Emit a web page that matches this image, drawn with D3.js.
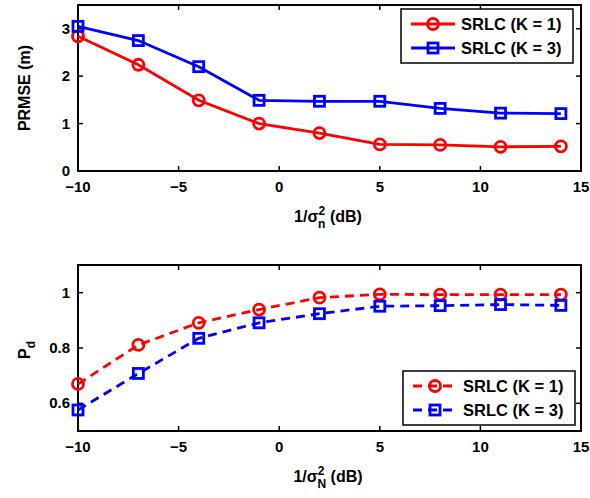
<!DOCTYPE html>
<html>
<head>
<meta charset="utf-8">
<script src="https://cdn.jsdelivr.net/npm/d3@7"></script>
<style>
  body { margin: 0; background: #fff; }
  text { font-family: "Liberation Sans", Arial, sans-serif; font-weight: bold; }
</style>
</head>
<body>
<div id="chart"></div>
<script>
// data
const snr = [-10, -7, -4, -1, 2, 5, 8, 11, 14];
const prmseK1 = [2.84, 2.24, 1.49, 1.0, 0.80, 0.56, 0.55, 0.51, 0.52];
const prmseK3 = [3.05, 2.75, 2.20, 1.49, 1.47, 1.47, 1.32, 1.22, 1.21];
const pdK1 = [0.67, 0.811, 0.891, 0.939, 0.982, 0.994, 0.993, 0.993, 0.993];
const pdK3 = [0.576, 0.708, 0.835, 0.891, 0.924, 0.951, 0.953, 0.957, 0.954];
const xTicks = [-10, -5, 0, 5, 10, 15];
const topYTicks = [0, 1, 2, 3];
const botYTicks = [0.6, 0.8, 1];
const seriesNames = ["SRLC (K = 1)", "SRLC (K = 3)"];

const W = 590, H = 498;
const svg = d3.select("#chart").append("svg")
    .attr("width", W).attr("height", H);

function fmtTick(d) {
    return (d < 0 ? "\u2212" + Math.abs(d) : String(d));
}

function drawPanel(opt) {
    const x = d3.scaleLinear().domain([-10, 15]).range([78, 581]);
    const y = d3.scaleLinear().domain(opt.yDomain).range([opt.bottom, opt.top]);
    const g = svg.append("g");

    // inward ticks on all four sides
    const tk = 5;
    xTicks.forEach(t => {
        g.append("line").attr("x1", x(t)).attr("x2", x(t))
            .attr("y1", opt.bottom).attr("y2", opt.bottom - tk)
            .attr("stroke", "#000").attr("stroke-width", 1.5);
        g.append("line").attr("x1", x(t)).attr("x2", x(t))
            .attr("y1", opt.top).attr("y2", opt.top + tk)
            .attr("stroke", "#000").attr("stroke-width", 1.5);
        g.append("text").attr("x", x(t)).attr("y", opt.bottom + 21)
            .attr("text-anchor", "middle").attr("font-size", 15)
            .text(fmtTick(t));
    });
    opt.yTicks.forEach(t => {
        g.append("line").attr("x1", 78).attr("x2", 78 + tk)
            .attr("y1", y(t)).attr("y2", y(t))
            .attr("stroke", "#000").attr("stroke-width", 1.5);
        g.append("line").attr("x1", 581).attr("x2", 581 - tk)
            .attr("y1", y(t)).attr("y2", y(t))
            .attr("stroke", "#000").attr("stroke-width", 1.5);
        g.append("text").attr("x", 70).attr("y", y(t) + 5)
            .attr("text-anchor", "end").attr("font-size", 15)
            .text(String(t));
    });

    g.append("rect").attr("x", 78).attr("y", opt.top)
        .attr("width", 581 - 78).attr("height", opt.bottom - opt.top)
        .attr("fill", "none").attr("stroke", "#000").attr("stroke-width", 2);

    const line = d3.line().x(d => x(d[0])).y(d => y(d[1]));
    const series = [
        { vals: opt.s1, color: "#ff0000", marker: "circle" },
        { vals: opt.s2, color: "#0000ff", marker: "square" }
    ];
    series.forEach(s => {
        const pts = snr.map((v, i) => [v, s.vals[i]]);
        g.append("path").datum(pts).attr("d", line)
            .attr("fill", "none").attr("stroke", s.color).attr("stroke-width", 2.8)
            .attr("stroke-dasharray", opt.dash ? "9,6" : null);
        drawMarkers(g, pts.map(p => [x(p[0]), y(p[1])]), s);
    });

    // legend
    const lg = svg.append("g");
    lg.append("rect").attr("x", opt.leg[0]).attr("y", opt.leg[1])
        .attr("width", 172).attr("height", 54)
        .attr("fill", "#fff").attr("stroke", "#000").attr("stroke-width", 1.5);
    series.forEach((s, i) => {
        const ly = opt.leg[1] + 15 + i * 24;
        lg.append("line").attr("x1", opt.leg[0] + 10).attr("x2", opt.leg[0] + 54)
            .attr("y1", ly).attr("y2", ly)
            .attr("stroke", s.color).attr("stroke-width", 2.8)
            .attr("stroke-dasharray", opt.dash ? "9,6" : null);
        drawMarkers(lg, [[opt.leg[0] + 32, ly]], s);
        lg.append("text").attr("x", opt.leg[0] + 60).attr("y", ly + 6)
            .attr("font-size", 16.5).text(seriesNames[i]);
    });
    return g;
}

function drawMarkers(g, pts, s) {
    pts.forEach(p => {
        if (s.marker === "circle") {
            g.append("circle").attr("cx", p[0]).attr("cy", p[1]).attr("r", 5.5)
                .attr("fill", "none").attr("stroke", s.color).attr("stroke-width", 2.8);
        } else {
            g.append("rect").attr("x", p[0] - 5).attr("y", p[1] - 5)
                .attr("width", 10).attr("height", 10)
                .attr("fill", "none").attr("stroke", s.color).attr("stroke-width", 2.8);
        }
    });
}

drawPanel({ top: 5, bottom: 171, yDomain: [0, 3.5], yTicks: topYTicks,
    s1: prmseK1, s2: prmseK3, dash: false, leg: [401, 9] });
drawPanel({ top: 265, bottom: 431, yDomain: [0.5, 1.1], yTicks: botYTicks,
    s1: pdK1, s2: pdK3, dash: true, leg: [403, 371] });

// axis labels
function xLabel(yPos, sub) {
    const t = svg.append("text").attr("x", 328).attr("y", yPos)
        .attr("text-anchor", "middle").attr("font-size", 16);
    t.append("tspan").text("1/\u03c3");
    t.append("tspan").attr("dy", -7).attr("font-size", 12).text("2");
    t.append("tspan").attr("dx", -7).attr("dy", 13).attr("font-size", 12).text(sub);
    t.append("tspan").attr("dy", -6).text(" (dB)");
}
xLabel(222, "n");
xLabel(482, "N");

svg.append("text").attr("transform", "translate(30,88) rotate(-90)")
    .attr("text-anchor", "middle").attr("font-size", 16).text("PRMSE (m)");

const pd = svg.append("text").attr("transform", "translate(30,350) rotate(-90)")
    .attr("text-anchor", "middle").attr("font-size", 16);
pd.append("tspan").text("P");
pd.append("tspan").attr("dy", 5).attr("font-size", 12).text("d");
</script>
</body>
</html>
